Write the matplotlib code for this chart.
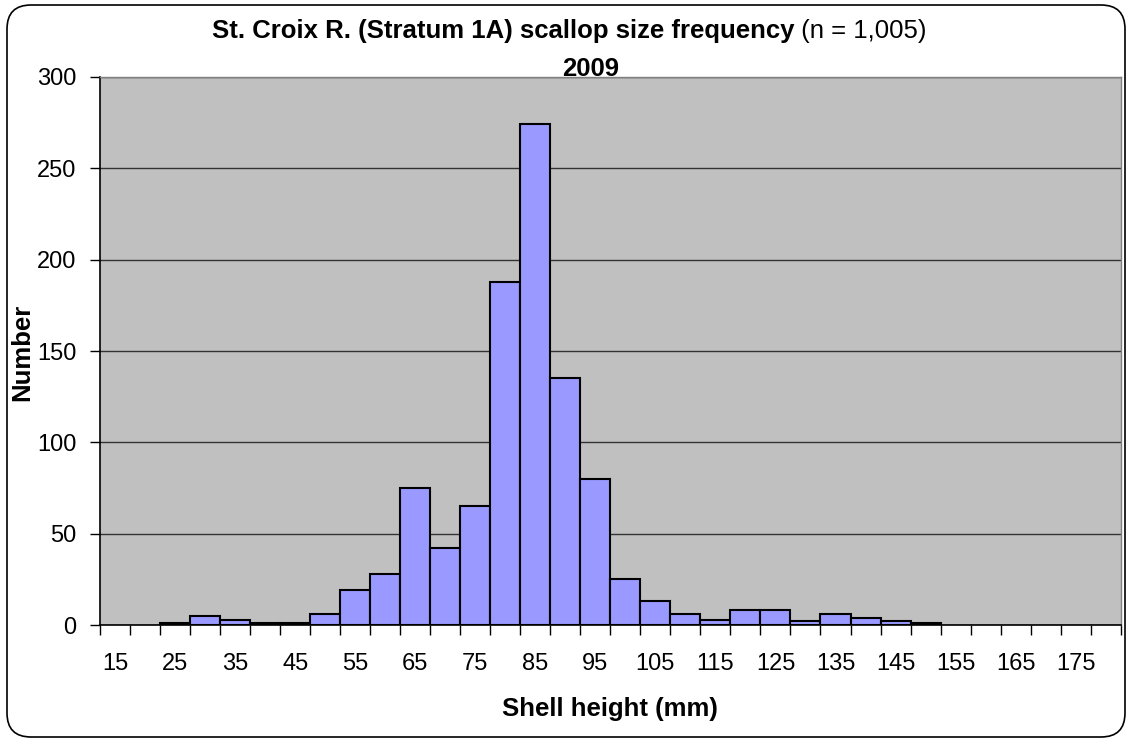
import numpy as np
import matplotlib
matplotlib.use("Agg")
from matplotlib import pyplot as plt
from matplotlib.patches import FancyBboxPatch
from matplotlib.transforms import IdentityTransform

plt.rcParams['font.family'] = ['Liberation Sans', 'DejaVu Sans']

# shell height classes (mm) and counts
sizes = list(range(15, 185, 5))
counts = [0, 0, 1, 5, 3, 1, 1, 6, 19, 28, 75, 42, 65, 188, 274, 135, 80,
          25, 13, 6, 3, 8, 8, 2, 6, 4, 2, 1, 0, 0, 0, 0, 0, 0]
tick_labels = [str(s) for s in sizes[::2]]

W, H = 1131, 740
fig = plt.figure(figsize=(W / 100, H / 100), dpi=100)
ax = fig.add_axes([100/W, 1 - 625/H, 1020.7/W, 548/H])
ax.set_facecolor('#C0C0C0')

pos = np.arange(len(sizes))
cnt = np.array(counts)
keep = cnt > 0
ax.bar(pos[keep], cnt[keep], width=1.0, color='#9999FF', edgecolor='black',
       linewidth=1.5, zorder=3)

ax.set_xlim(-0.5, len(sizes) - 0.5)
ax.set_ylim(0, 300)
ax.set_yticks(np.arange(0, 301, 50))
ax.yaxis.grid(True, color='#333333', linewidth=1, zorder=1)
ax.set_axisbelow(True)

ax.set_xticks(pos[::2])
ax.set_xticklabels(tick_labels)
ax.set_xticks(np.arange(-0.5, len(sizes)), minor=True)
ax.tick_params(axis='x', which='major', length=0, pad=20, labelsize=17)
ax.tick_params(axis='x', which='minor', length=7, width=1, color='black')
ax.tick_params(axis='y', length=7, width=1, pad=10, labelsize=17)

for s in ['left', 'bottom']:
    ax.spines[s].set_color('black')
    ax.spines[s].set_linewidth(1.2)
for s in ['top', 'right']:
    ax.spines[s].set_color('#808080')
    ax.spines[s].set_linewidth(1)

# title: bold part followed by normal part on the same baseline
t1 = fig.text(212/W, 1 - 38/H, 'St. Croix R. (Stratum 1A) scallop size frequency',
              ha='left', va='baseline', fontsize=18.5, fontweight='bold')
fig.canvas.draw()
bb = t1.get_window_extent()
fig.text(bb.x1 / W, 1 - 38/H, ' (n = 1,005)', ha='left', va='baseline', fontsize=18.5)
fig.text(562/W, 1 - 76/H, '2009', ha='left', va='baseline', fontsize=18.5,
         fontweight='bold')
fig.text(610/W, 1 - 709/H, 'Shell height (mm)', ha='center', va='center',
         fontsize=18.5, fontweight='bold')
fig.text(22/W, 1 - 352/H, 'Number', ha='center', va='center', rotation=90,
         fontsize=18.5, fontweight='bold')

border = FancyBboxPatch((7, 3), 1118, 732, boxstyle='round,pad=0,rounding_size=24',
                        transform=IdentityTransform(), facecolor='none',
                        edgecolor='black', linewidth=1.2)
fig.add_artist(border)

fig.savefig('out.png', dpi=100)
